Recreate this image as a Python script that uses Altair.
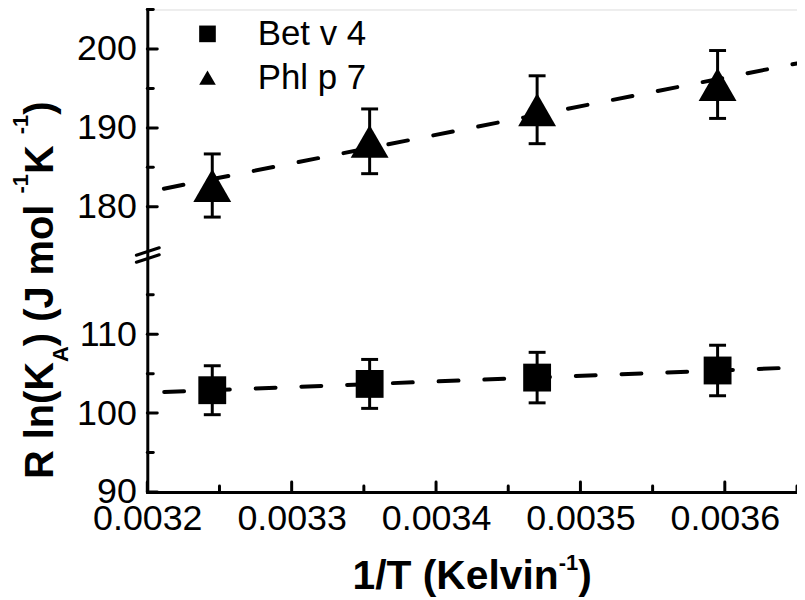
import altair as alt
import pandas as pd

# ---------------- data ----------------
inv_T = [0.003245, 0.003354, 0.003470, 0.003595]          # 1/T (K^-1)
bet_v4 = [102.9, 103.7, 104.5, 105.4]
bet_v4_err = [3.1, 3.1, 3.2, 3.2]
phl_p7 = [182.7, 188.3, 192.3, 195.5]
phl_p7_err = [4.0, 4.1, 4.3, 4.3]
series_names = ["Bet v 4", "Phl p 7"]

x_tick_labels = [0.0032, 0.0033, 0.0034, 0.0035, 0.0036]
x_minor_ticks = [0.00325, 0.00335, 0.00345, 0.00355, 0.00365]
y_tick_labels = [90, 100, 110, 180, 190, 200]
y_minor_ticks = [95, 105, 115, 185, 195, 205]
x_domain = [0.0032, 0.00365]
y_domain_pieces = [90, 120, 175, 205]   # broken axis: 90-120 and 175-205

# ---------------- layout / style ----------------
FONT = "Liberation Sans"
W, H = 653, 485
GAP = 9
SEG = (H - GAP) / 2
BLACK = "#000000"

rows = []
for xv, yv, ev in zip(inv_T, bet_v4, bet_v4_err):
    rows.append({"x": xv, "y": yv, "lo": yv - ev, "hi": yv + ev, "series": series_names[0]})
for xv, yv, ev in zip(inv_T, phl_p7, phl_p7_err):
    rows.append({"x": xv, "y": yv, "lo": yv - ev, "hi": yv + ev, "series": series_names[1]})
df = pd.DataFrame(rows)

xs = alt.Scale(domain=x_domain, nice=False, zero=False)
ys = alt.Scale(domain=y_domain_pieces, range=[H, H - SEG, SEG, 0], nice=False, zero=False)

xaxis = alt.Axis(values=x_tick_labels, format=".4f", title=None, ticks=False, tickSize=0,
                 domainWidth=3, domainColor=BLACK, domainCap="square", grid=False,
                 labelFont=FONT, labelFontSize=36, labelColor=BLACK, labelPadding=10,
                 labelOverlap=False, labelFlush=False)
yaxis = alt.Axis(values=y_tick_labels, format="d", title=None, ticks=False, tickSize=0,
                 domainWidth=3, domainColor=BLACK, domainCap="square", grid=False,
                 labelFont=FONT, labelFontSize=36, labelColor=BLACK, labelPadding=11,
                 labelOverlap=False, labelFlush=False)

X = alt.X("x:Q", scale=xs, axis=xaxis)
Y = alt.Y("y:Q", scale=ys, axis=yaxis)

base = alt.Chart(df)

fit = base.transform_regression("x", "y", groupby=["series"], extent=x_domain).mark_line(
    color=BLACK, strokeWidth=4, strokeDash=[20, 26], strokeDashOffset=29, strokeCap="round"
).encode(x=X, y=Y, detail="series:N")

err_rule = base.mark_rule(color=BLACK, strokeWidth=3).encode(
    x=X, y=alt.Y("lo:Q", scale=ys), y2="hi:Q")
cap_lo = base.mark_tick(color=BLACK, orient="horizontal", size=17, thickness=3, opacity=1).encode(
    x=X, y=alt.Y("lo:Q", scale=ys))
cap_hi = base.mark_tick(color=BLACK, orient="horizontal", size=17, thickness=3, opacity=1).encode(
    x=X, y=alt.Y("hi:Q", scale=ys))

points = base.mark_point(filled=True, opacity=1, strokeWidth=0).encode(
    x=X, y=Y,
    shape=alt.Shape("series:N",
                    scale=alt.Scale(domain=series_names, range=["square", "triangle-up"]),
                    legend=alt.Legend(title=None, orient="none", legendX=43, legendY=7,
                                      symbolSize=280, symbolFillColor=BLACK,
                                      symbolStrokeWidth=0, labelFont=FONT,
                                      labelFontSize=35, labelColor=BLACK, labelOffset=33,
                                      rowPadding=8, padding=0)),
    size=alt.condition(alt.datum.series == series_names[0], alt.value(784), alt.value(1450)),
    color=alt.value(BLACK),
)

# inward ticks
def xticks(vals, length):
    return alt.Chart(pd.DataFrame({"x": vals})).mark_rule(
        color=BLACK, strokeWidth=3, strokeCap="round").encode(
        x=X, y=alt.value(H), y2=alt.value(H - length))

def yticks(vals, length):
    return alt.Chart(pd.DataFrame({"y": vals})).mark_rule(
        color=BLACK, strokeWidth=3, strokeCap="round").encode(
        y=Y, x=alt.value(0), x2=alt.value(length))

one = alt.Data(values=[{"k": 1}])

def slash(x0, y0, x1, y1):
    return alt.Chart(one).mark_rule(color=BLACK, strokeWidth=3, strokeCap="round").encode(
        x=alt.value(x0), y=alt.value(y0), x2=alt.value(x1), y2=alt.value(y1))

# text pieces for titles (Arial/Liberation Sans Bold advance widths per 1000 em)
BOLD_W = {' ': 278, '1': 556, '/': 278, 'T': 611, '(': 333, ')': 333, 'K': 722, 'e': 556,
          'l': 278, 'v': 556, 'i': 278, 'n': 611, '-': 333, 'R': 722, 'A': 722, 'J': 556,
          'm': 889, 'o': 611}

def tw(s, size):
    return sum(BOLD_W.get(c, 556) for c in s) * size / 1000.0

def txt(s, x, y, size, angle=0):
    return alt.Chart(one).mark_text(
        align="left", baseline="alphabetic", angle=angle, font=FONT, fontSize=size,
        fontWeight="bold", color=BLACK).encode(x=alt.value(x), y=alt.value(y), text=alt.value(s))

title_layers = []
# y title, rotated, reading upward
TS, SS = 40, 22
yb = -95  # baseline x
ypos = 472
pieces = [("R ln(K", TS, 0), ("A", SS, 15), (")  (J mol", TS, 0), ("-1", SS, -25),
          (" K", TS, 0), ("-1", SS, -25), (")", TS, 0)]
for s, sz, sh in pieces:
    title_layers.append(txt(s, yb + sh, ypos, sz, angle=270))
    ypos -= tw(s, sz)

# x title
XS = 41
xpieces = [("1/T (Kelvin", XS, 0), ("-1", SS, -19), (")", XS, 0)]
total = sum(tw(s, sz) for s, sz, _ in xpieces)
xpos = W / 2 - total / 2
for s, sz, sh in xpieces:
    title_layers.append(txt(s, xpos, 582 + sh, sz))
    xpos += tw(s, sz)

chart = alt.layer(
    fit, err_rule, cap_lo, cap_hi, points,
    xticks(x_tick_labels, 10), xticks(x_minor_ticks, 6),
    yticks(y_tick_labels, 10), yticks(y_minor_ticks, 6),
    slash(-11, 247, 12, 239.5), slash(-11, 254, 12, 246.5),
    *title_layers,
).properties(
    width=W, height=H,
    autosize=alt.AutoSizeParams(type="none"),
    padding={"left": 140, "top": 0, "right": 0, "bottom": 107},
).configure_view(strokeWidth=0).configure(background="white")

chart.save("out.html", embed_options={"renderer": "svg", "actions": False})
